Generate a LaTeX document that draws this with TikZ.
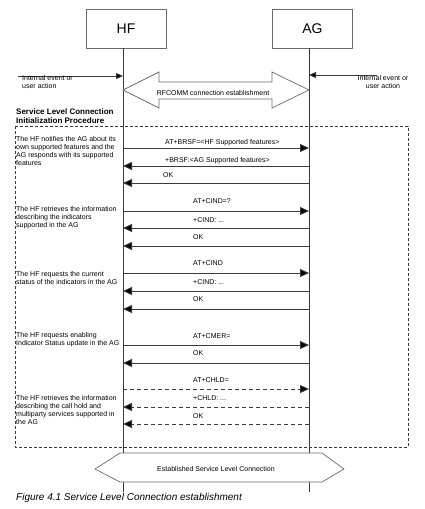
\documentclass[tikz,border=0pt]{standalone}
\usepackage{fontspec}
\setmainfont{Liberation Sans}
\usetikzlibrary{arrows.meta}
\definecolor{ln}{HTML}{3A3A3A}
\definecolor{bx}{HTML}{6A6A6A}
\begin{document}
\begin{tikzpicture}[x=1pt,y=-1pt,
  ent/.style={draw=bx, line width=0.7pt, minimum width=80pt, minimum height=39pt, inner sep=0, font=\fontsize{14}{16}\selectfont},
  life/.style={draw=ln, line width=0.8pt},
  msg/.style={draw=ln, line width=0.9pt, -{Triangle[length=9pt,width=8pt,fill=black]}},
  dmsg/.style={msg, dash pattern=on 4pt off 3pt},
  evt/.style={draw=ln, line width=0.8pt, -{Triangle[length=7pt,width=6pt,fill=black]}},
  lbl/.style={anchor=west, inner sep=0, font=\fontsize{7}{8}\selectfont},
  desc/.style={anchor=west, inner sep=0, align=left, font=\fontsize{7}{8}\selectfont},
  shape2/.style={draw=bx, line width=0.7pt, fill=white}
]
\useasboundingbox (0,0) rectangle (424,509);

% entities
\node[ent] (HF) at (126,28.5) {HF};
\node[ent] (AG) at (312.5,28.5) {AG};

% lifelines
\coordinate (hft) at (123,48);
\coordinate (hfb) at (123,492);
\coordinate (agt) at (309,48);
\coordinate (agb) at (309,492);
\draw[life] (hft) -- (hfb);
\draw[life] (agt) -- (agb);

% internal events
\coordinate (el) at (18,76);
\coordinate (eh) at (123,76);
\coordinate (er) at (377,75);
\coordinate (ea) at (309,75);
\draw[evt] (el) -- (eh);
\draw[evt] (er) -- (ea);
\node[desc, anchor=north west] (evl) at (22,75.5) {Internal event or\\user action};
\node[desc, anchor=north, align=center] (evr) at (383,75.5) {Internal event or\\user action};

% RFCOMM hollow double arrow
\draw[shape2] (123,90) -- (159,72) -- (159,82) -- (272,82) -- (272,72) -- (309,90)
  -- (272,108) -- (272,99) -- (159,99) -- (159,108) -- cycle;
\node[inner sep=0, font=\fontsize{7}{8}\selectfont] (rf) at (213,93) {RFCOMM connection establishment};

% title
\node[desc, font=\bfseries\fontsize{8}{9}\selectfont] (title) at (16,116.5) {Service Level Connection\\Initialization Procedure};

% dashed frame
\draw[draw=ln, line width=0.6pt, dash pattern=on 3pt off 2pt] (15,126) rectangle (408,447);

% descriptions
\node[desc] (d1) at (16,151) {The HF notifies the AG about its\\own supported features and the\\AG responds with its supported\\features};
\node[desc] (d2) at (16,218) {The HF retrieves the information\\describing the indicators\\supported in the AG};
\node[desc] (d3) at (16,277.5) {The HF requests the current\\status of the indicators in the AG};
\node[desc] (d4) at (16,339.5) {The HF requests enabling\\Indicator Status update in the AG};
\node[desc] (d5) at (16,409.5) {The HF retrieves the information\\describing the call hold and\\multiparty services supported in\\the AG};

% messages
\foreach \i/\y in {1/148,2/166,3/183,4/211,5/228,6/246,7/273,8/291,9/309,10/345,11/363,12/389,13/407,14/424}{
  \coordinate (h\i) at (123,\y);
  \coordinate (a\i) at (309,\y);
}
\draw[msg] (h1) -- (a1);
\draw[msg] (a2) -- (h2);
\draw[msg] (a3) -- (h3);
\draw[msg] (h4) -- (a4);
\draw[msg] (a5) -- (h5);
\draw[msg] (a6) -- (h6);
\draw[msg] (h7) -- (a7);
\draw[msg] (a8) -- (h8);
\draw[msg] (a9) -- (h9);
\draw[msg] (h10) -- (a10);
\draw[msg] (a11) -- (h11);
\draw[dmsg] (h12) -- (a12);
\draw[dmsg] (a13) -- (h13);
\draw[dmsg] (a14) -- (h14);

\node[lbl] (l1) at (165,143) {AT+BRSF=<HF Supported features>};
\node[lbl] (l2) at (165,161) {+BRSF:<AG Supported features>};
\node[lbl] (l3) at (163,175) {OK};
\node[lbl] (l4) at (193,201) {AT+CIND=?};
\node[lbl] (l5) at (193,220) {+CIND: ...};
\node[lbl] (l6) at (193,237) {OK};
\node[lbl] (l7) at (193,263) {AT+CIND};
\node[lbl] (l8) at (193,282) {+CIND: ...};
\node[lbl] (l9) at (193,299) {OK};
\node[lbl] (l10) at (193,336) {AT+CMER=};
\node[lbl] (l11) at (193,353) {OK};
\node[lbl] (l12) at (193,380) {AT+CHLD=};
\node[lbl] (l13) at (193,398) {+CHLD: ...};
\node[lbl] (l14) at (193,416) {OK};

% established SLC hexagon
\draw[shape2] (95,469) -- (120,453) -- (322,453) -- (344,469) -- (322,482) -- (120,482) -- cycle;
\node[inner sep=0, font=\fontsize{7}{8}\selectfont] (slc) at (216,469) {Established Service Level Connection};

% caption
\node[anchor=west, inner sep=0, font=\itshape\fontsize{10}{12}\selectfont] (cap) at (16,498) {Figure 4.1 Service Level Connection establishment};
\end{tikzpicture}
\end{document}
